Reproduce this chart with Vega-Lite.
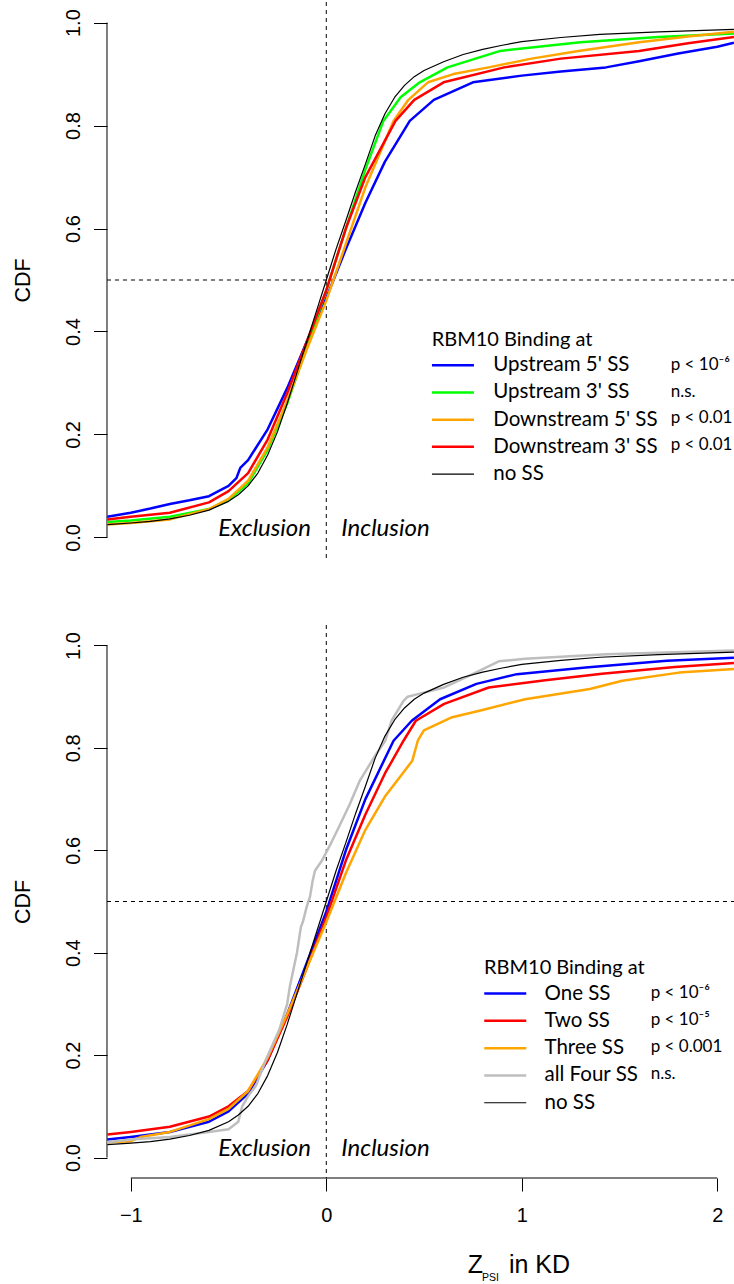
{
 "$schema": "https://vega.github.io/schema/vega-lite/v6.json",
 "autosize": {"type": "pad"},
 "padding": {"left": 0, "top": 1, "right": 0, "bottom": 0},
 "background": "white",
 "bounds": "flush",
 "spacing": 67,
 "config": {
  "view": {"stroke": null},
  "font": "Liberation Sans",
  "axis": {"labelFont": "Liberation Sans", "labelFontSize": 20, "labelColor": "black", "tickColor": "black", "tickWidth": 1, "tickSize": 13.5, "grid": false, "domain": false, "titleFont": "Liberation Sans", "titleFontSize": 21.5, "titleFontWeight": "normal", "titleColor": "black"},
  "text": {"color": "black"}
 },
 "datasets": {
  "top": [
   {"series": "Upstream 5' SS", "z": -1.12, "cdf": 0.04}, {"series": "Upstream 5' SS", "z": -1.0, "cdf": 0.048}, {"series": "Upstream 5' SS", "z": -0.9, "cdf": 0.056}, {"series": "Upstream 5' SS", "z": -0.8, "cdf": 0.065}, {"series": "Upstream 5' SS", "z": -0.7, "cdf": 0.072}, {"series": "Upstream 5' SS", "z": -0.6, "cdf": 0.08}, {"series": "Upstream 5' SS", "z": -0.5, "cdf": 0.1}, {"series": "Upstream 5' SS", "z": -0.46, "cdf": 0.115}, {"series": "Upstream 5' SS", "z": -0.44, "cdf": 0.135}, {"series": "Upstream 5' SS", "z": -0.4, "cdf": 0.15}, {"series": "Upstream 5' SS", "z": -0.3, "cdf": 0.21}, {"series": "Upstream 5' SS", "z": -0.2, "cdf": 0.29}, {"series": "Upstream 5' SS", "z": -0.1, "cdf": 0.38}, {"series": "Upstream 5' SS", "z": 0.0, "cdf": 0.465}, {"series": "Upstream 5' SS", "z": 0.1, "cdf": 0.56}, {"series": "Upstream 5' SS", "z": 0.2, "cdf": 0.65}, {"series": "Upstream 5' SS", "z": 0.3, "cdf": 0.73}, {"series": "Upstream 5' SS", "z": 0.427, "cdf": 0.809}, {"series": "Upstream 5' SS", "z": 0.55, "cdf": 0.85}, {"series": "Upstream 5' SS", "z": 0.75, "cdf": 0.884}, {"series": "Upstream 5' SS", "z": 1.0, "cdf": 0.897}, {"series": "Upstream 5' SS", "z": 1.2, "cdf": 0.905}, {"series": "Upstream 5' SS", "z": 1.43, "cdf": 0.913}, {"series": "Upstream 5' SS", "z": 1.6, "cdf": 0.925}, {"series": "Upstream 5' SS", "z": 1.8, "cdf": 0.94}, {"series": "Upstream 5' SS", "z": 2.0, "cdf": 0.953}, {"series": "Upstream 5' SS", "z": 2.085, "cdf": 0.961},
   {"series": "Upstream 3' SS", "z": -1.12, "cdf": 0.03}, {"series": "Upstream 3' SS", "z": -1.0, "cdf": 0.033}, {"series": "Upstream 3' SS", "z": -0.8, "cdf": 0.04}, {"series": "Upstream 3' SS", "z": -0.6, "cdf": 0.055}, {"series": "Upstream 3' SS", "z": -0.5, "cdf": 0.072}, {"series": "Upstream 3' SS", "z": -0.4, "cdf": 0.105}, {"series": "Upstream 3' SS", "z": -0.3, "cdf": 0.17}, {"series": "Upstream 3' SS", "z": -0.2, "cdf": 0.26}, {"series": "Upstream 3' SS", "z": -0.1, "cdf": 0.37}, {"series": "Upstream 3' SS", "z": 0.0, "cdf": 0.48}, {"series": "Upstream 3' SS", "z": 0.1, "cdf": 0.6}, {"series": "Upstream 3' SS", "z": 0.2, "cdf": 0.715}, {"series": "Upstream 3' SS", "z": 0.292, "cdf": 0.809}, {"series": "Upstream 3' SS", "z": 0.38, "cdf": 0.855}, {"series": "Upstream 3' SS", "z": 0.478, "cdf": 0.884}, {"series": "Upstream 3' SS", "z": 0.62, "cdf": 0.913}, {"series": "Upstream 3' SS", "z": 0.89, "cdf": 0.945}, {"series": "Upstream 3' SS", "z": 1.3, "cdf": 0.962}, {"series": "Upstream 3' SS", "z": 1.7, "cdf": 0.972}, {"series": "Upstream 3' SS", "z": 2.085, "cdf": 0.979},
   {"series": "Downstream 5' SS", "z": -1.12, "cdf": 0.025}, {"series": "Downstream 5' SS", "z": -1.0, "cdf": 0.028}, {"series": "Downstream 5' SS", "z": -0.8, "cdf": 0.035}, {"series": "Downstream 5' SS", "z": -0.6, "cdf": 0.055}, {"series": "Downstream 5' SS", "z": -0.5, "cdf": 0.075}, {"series": "Downstream 5' SS", "z": -0.4, "cdf": 0.11}, {"series": "Downstream 5' SS", "z": -0.3, "cdf": 0.175}, {"series": "Downstream 5' SS", "z": -0.2, "cdf": 0.265}, {"series": "Downstream 5' SS", "z": -0.1, "cdf": 0.365}, {"series": "Downstream 5' SS", "z": 0.0, "cdf": 0.46}, {"series": "Downstream 5' SS", "z": 0.1, "cdf": 0.57}, {"series": "Downstream 5' SS", "z": 0.2, "cdf": 0.68}, {"series": "Downstream 5' SS", "z": 0.344, "cdf": 0.809}, {"series": "Downstream 5' SS", "z": 0.42, "cdf": 0.85}, {"series": "Downstream 5' SS", "z": 0.52, "cdf": 0.884}, {"series": "Downstream 5' SS", "z": 0.65, "cdf": 0.9}, {"series": "Downstream 5' SS", "z": 0.83, "cdf": 0.913}, {"series": "Downstream 5' SS", "z": 1.05, "cdf": 0.93}, {"series": "Downstream 5' SS", "z": 1.29, "cdf": 0.945}, {"series": "Downstream 5' SS", "z": 1.6, "cdf": 0.962}, {"series": "Downstream 5' SS", "z": 1.85, "cdf": 0.973}, {"series": "Downstream 5' SS", "z": 2.085, "cdf": 0.982},
   {"series": "Downstream 3' SS", "z": -1.12, "cdf": 0.035}, {"series": "Downstream 3' SS", "z": -1.0, "cdf": 0.04}, {"series": "Downstream 3' SS", "z": -0.8, "cdf": 0.048}, {"series": "Downstream 3' SS", "z": -0.6, "cdf": 0.068}, {"series": "Downstream 3' SS", "z": -0.5, "cdf": 0.09}, {"series": "Downstream 3' SS", "z": -0.4, "cdf": 0.125}, {"series": "Downstream 3' SS", "z": -0.3, "cdf": 0.19}, {"series": "Downstream 3' SS", "z": -0.2, "cdf": 0.28}, {"series": "Downstream 3' SS", "z": -0.1, "cdf": 0.38}, {"series": "Downstream 3' SS", "z": 0.0, "cdf": 0.48}, {"series": "Downstream 3' SS", "z": 0.1, "cdf": 0.6}, {"series": "Downstream 3' SS", "z": 0.2, "cdf": 0.7}, {"series": "Downstream 3' SS", "z": 0.354, "cdf": 0.809}, {"series": "Downstream 3' SS", "z": 0.45, "cdf": 0.85}, {"series": "Downstream 3' SS", "z": 0.6, "cdf": 0.884}, {"series": "Downstream 3' SS", "z": 0.91, "cdf": 0.913}, {"series": "Downstream 3' SS", "z": 1.2, "cdf": 0.93}, {"series": "Downstream 3' SS", "z": 1.6, "cdf": 0.945}, {"series": "Downstream 3' SS", "z": 1.85, "cdf": 0.96}, {"series": "Downstream 3' SS", "z": 2.085, "cdf": 0.972},
   {"series": "no SS", "z": -1.12, "cdf": 0.025}, {"series": "no SS", "z": -1.0, "cdf": 0.028}, {"series": "no SS", "z": -0.9, "cdf": 0.031}, {"series": "no SS", "z": -0.8, "cdf": 0.036}, {"series": "no SS", "z": -0.7, "cdf": 0.043}, {"series": "no SS", "z": -0.6, "cdf": 0.053}, {"series": "no SS", "z": -0.5, "cdf": 0.07}, {"series": "no SS", "z": -0.45, "cdf": 0.083}, {"series": "no SS", "z": -0.4, "cdf": 0.1}, {"series": "no SS", "z": -0.35, "cdf": 0.125}, {"series": "no SS", "z": -0.3, "cdf": 0.16}, {"series": "no SS", "z": -0.25, "cdf": 0.205}, {"series": "no SS", "z": -0.2, "cdf": 0.26}, {"series": "no SS", "z": -0.15, "cdf": 0.32}, {"series": "no SS", "z": -0.1, "cdf": 0.38}, {"series": "no SS", "z": -0.05, "cdf": 0.44}, {"series": "no SS", "z": 0.0, "cdf": 0.5}, {"series": "no SS", "z": 0.05, "cdf": 0.56}, {"series": "no SS", "z": 0.1, "cdf": 0.615}, {"series": "no SS", "z": 0.15, "cdf": 0.672}, {"series": "no SS", "z": 0.2, "cdf": 0.725}, {"series": "no SS", "z": 0.25, "cdf": 0.78}, {"series": "no SS", "z": 0.3, "cdf": 0.823}, {"series": "no SS", "z": 0.35, "cdf": 0.855}, {"series": "no SS", "z": 0.4, "cdf": 0.878}, {"series": "no SS", "z": 0.45, "cdf": 0.895}, {"series": "no SS", "z": 0.5, "cdf": 0.907}, {"series": "no SS", "z": 0.6, "cdf": 0.924}, {"series": "no SS", "z": 0.7, "cdf": 0.938}, {"series": "no SS", "z": 0.8, "cdf": 0.948}, {"series": "no SS", "z": 0.9, "cdf": 0.956}, {"series": "no SS", "z": 1.0, "cdf": 0.963}, {"series": "no SS", "z": 1.2, "cdf": 0.971}, {"series": "no SS", "z": 1.4, "cdf": 0.977}, {"series": "no SS", "z": 1.7, "cdf": 0.982}, {"series": "no SS", "z": 2.085, "cdf": 0.987}
  ],
  "bottom": [
   {"series": "One SS", "z": -1.12, "cdf": 0.035}, {"series": "One SS", "z": -1.0, "cdf": 0.04}, {"series": "One SS", "z": -0.8, "cdf": 0.05}, {"series": "One SS", "z": -0.6, "cdf": 0.07}, {"series": "One SS", "z": -0.5, "cdf": 0.09}, {"series": "One SS", "z": -0.4, "cdf": 0.125}, {"series": "One SS", "z": -0.3, "cdf": 0.19}, {"series": "One SS", "z": -0.2, "cdf": 0.28}, {"series": "One SS", "z": -0.1, "cdf": 0.38}, {"series": "One SS", "z": 0.0, "cdf": 0.48}, {"series": "One SS", "z": 0.1, "cdf": 0.6}, {"series": "One SS", "z": 0.2, "cdf": 0.7}, {"series": "One SS", "z": 0.344, "cdf": 0.814}, {"series": "One SS", "z": 0.437, "cdf": 0.853}, {"series": "One SS", "z": 0.582, "cdf": 0.895}, {"series": "One SS", "z": 0.768, "cdf": 0.925}, {"series": "One SS", "z": 0.975, "cdf": 0.944}, {"series": "One SS", "z": 1.327, "cdf": 0.957}, {"series": "One SS", "z": 1.742, "cdf": 0.97}, {"series": "One SS", "z": 2.085, "cdf": 0.976},
   {"series": "Two SS", "z": -1.12, "cdf": 0.045}, {"series": "Two SS", "z": -1.0, "cdf": 0.05}, {"series": "Two SS", "z": -0.8, "cdf": 0.06}, {"series": "Two SS", "z": -0.6, "cdf": 0.08}, {"series": "Two SS", "z": -0.5, "cdf": 0.1}, {"series": "Two SS", "z": -0.4, "cdf": 0.13}, {"series": "Two SS", "z": -0.3, "cdf": 0.19}, {"series": "Two SS", "z": -0.2, "cdf": 0.275}, {"series": "Two SS", "z": -0.1, "cdf": 0.37}, {"series": "Two SS", "z": 0.0, "cdf": 0.47}, {"series": "Two SS", "z": 0.1, "cdf": 0.58}, {"series": "Two SS", "z": 0.2, "cdf": 0.67}, {"series": "Two SS", "z": 0.3, "cdf": 0.75}, {"series": "Two SS", "z": 0.395, "cdf": 0.814}, {"series": "Two SS", "z": 0.458, "cdf": 0.853}, {"series": "Two SS", "z": 0.603, "cdf": 0.886}, {"series": "Two SS", "z": 0.831, "cdf": 0.918}, {"series": "Two SS", "z": 1.12, "cdf": 0.932}, {"series": "Two SS", "z": 1.41, "cdf": 0.945}, {"series": "Two SS", "z": 1.783, "cdf": 0.958}, {"series": "Two SS", "z": 2.085, "cdf": 0.966},
   {"series": "Three SS", "z": -1.12, "cdf": 0.03}, {"series": "Three SS", "z": -1.0, "cdf": 0.032}, {"series": "Three SS", "z": -0.95, "cdf": 0.04}, {"series": "Three SS", "z": -0.8, "cdf": 0.05}, {"series": "Three SS", "z": -0.6, "cdf": 0.075}, {"series": "Three SS", "z": -0.5, "cdf": 0.095}, {"series": "Three SS", "z": -0.4, "cdf": 0.13}, {"series": "Three SS", "z": -0.3, "cdf": 0.195}, {"series": "Three SS", "z": -0.2, "cdf": 0.28}, {"series": "Three SS", "z": -0.1, "cdf": 0.37}, {"series": "Three SS", "z": 0.0, "cdf": 0.46}, {"series": "Three SS", "z": 0.1, "cdf": 0.555}, {"series": "Three SS", "z": 0.2, "cdf": 0.64}, {"series": "Three SS", "z": 0.3, "cdf": 0.705}, {"series": "Three SS", "z": 0.4, "cdf": 0.755}, {"series": "Three SS", "z": 0.44, "cdf": 0.775}, {"series": "Three SS", "z": 0.468, "cdf": 0.814}, {"series": "Three SS", "z": 0.499, "cdf": 0.834}, {"series": "Three SS", "z": 0.644, "cdf": 0.86}, {"series": "Three SS", "z": 0.789, "cdf": 0.873}, {"series": "Three SS", "z": 1.017, "cdf": 0.895}, {"series": "Three SS", "z": 1.348, "cdf": 0.915}, {"series": "Three SS", "z": 1.514, "cdf": 0.931}, {"series": "Three SS", "z": 1.804, "cdf": 0.947}, {"series": "Three SS", "z": 2.085, "cdf": 0.954},
   {"series": "all Four SS", "z": -1.12, "cdf": 0.03}, {"series": "all Four SS", "z": -1.0, "cdf": 0.035}, {"series": "all Four SS", "z": -0.8, "cdf": 0.04}, {"series": "all Four SS", "z": -0.6, "cdf": 0.05}, {"series": "all Four SS", "z": -0.5, "cdf": 0.055}, {"series": "all Four SS", "z": -0.45, "cdf": 0.07}, {"series": "all Four SS", "z": -0.43, "cdf": 0.1}, {"series": "all Four SS", "z": -0.4, "cdf": 0.12}, {"series": "all Four SS", "z": -0.36, "cdf": 0.14}, {"series": "all Four SS", "z": -0.31, "cdf": 0.19}, {"series": "all Four SS", "z": -0.24, "cdf": 0.25}, {"series": "all Four SS", "z": -0.2, "cdf": 0.3}, {"series": "all Four SS", "z": -0.186, "cdf": 0.335}, {"series": "all Four SS", "z": -0.15, "cdf": 0.4}, {"series": "all Four SS", "z": -0.13, "cdf": 0.45}, {"series": "all Four SS", "z": -0.12, "cdf": 0.46}, {"series": "all Four SS", "z": -0.1, "cdf": 0.49}, {"series": "all Four SS", "z": -0.083, "cdf": 0.51}, {"series": "all Four SS", "z": -0.07, "cdf": 0.54}, {"series": "all Four SS", "z": -0.058, "cdf": 0.56}, {"series": "all Four SS", "z": -0.022, "cdf": 0.58}, {"series": "all Four SS", "z": 0.019, "cdf": 0.61}, {"series": "all Four SS", "z": 0.07, "cdf": 0.65}, {"series": "all Four SS", "z": 0.12, "cdf": 0.69}, {"series": "all Four SS", "z": 0.17, "cdf": 0.735}, {"series": "all Four SS", "z": 0.25, "cdf": 0.785}, {"series": "all Four SS", "z": 0.302, "cdf": 0.814}, {"series": "all Four SS", "z": 0.3335, "cdf": 0.853}, {"series": "all Four SS", "z": 0.395, "cdf": 0.892}, {"series": "all Four SS", "z": 0.416, "cdf": 0.9}, {"series": "all Four SS", "z": 0.499, "cdf": 0.908}, {"series": "all Four SS", "z": 0.603, "cdf": 0.918}, {"series": "all Four SS", "z": 0.748, "cdf": 0.944}, {"series": "all Four SS", "z": 0.882, "cdf": 0.969}, {"series": "all Four SS", "z": 1.017, "cdf": 0.974}, {"series": "all Four SS", "z": 1.431, "cdf": 0.983}, {"series": "all Four SS", "z": 2.085, "cdf": 0.99},
   {"series": "no SS", "z": -1.12, "cdf": 0.025}, {"series": "no SS", "z": -1.0, "cdf": 0.028}, {"series": "no SS", "z": -0.9, "cdf": 0.031}, {"series": "no SS", "z": -0.8, "cdf": 0.036}, {"series": "no SS", "z": -0.7, "cdf": 0.043}, {"series": "no SS", "z": -0.6, "cdf": 0.053}, {"series": "no SS", "z": -0.5, "cdf": 0.07}, {"series": "no SS", "z": -0.45, "cdf": 0.083}, {"series": "no SS", "z": -0.4, "cdf": 0.1}, {"series": "no SS", "z": -0.35, "cdf": 0.125}, {"series": "no SS", "z": -0.3, "cdf": 0.16}, {"series": "no SS", "z": -0.25, "cdf": 0.205}, {"series": "no SS", "z": -0.2, "cdf": 0.26}, {"series": "no SS", "z": -0.15, "cdf": 0.32}, {"series": "no SS", "z": -0.1, "cdf": 0.38}, {"series": "no SS", "z": -0.05, "cdf": 0.44}, {"series": "no SS", "z": 0.0, "cdf": 0.5}, {"series": "no SS", "z": 0.05, "cdf": 0.56}, {"series": "no SS", "z": 0.1, "cdf": 0.615}, {"series": "no SS", "z": 0.15, "cdf": 0.672}, {"series": "no SS", "z": 0.2, "cdf": 0.725}, {"series": "no SS", "z": 0.25, "cdf": 0.78}, {"series": "no SS", "z": 0.3, "cdf": 0.823}, {"series": "no SS", "z": 0.35, "cdf": 0.855}, {"series": "no SS", "z": 0.4, "cdf": 0.878}, {"series": "no SS", "z": 0.45, "cdf": 0.895}, {"series": "no SS", "z": 0.5, "cdf": 0.907}, {"series": "no SS", "z": 0.6, "cdf": 0.924}, {"series": "no SS", "z": 0.7, "cdf": 0.938}, {"series": "no SS", "z": 0.8, "cdf": 0.948}, {"series": "no SS", "z": 0.9, "cdf": 0.956}, {"series": "no SS", "z": 1.0, "cdf": 0.963}, {"series": "no SS", "z": 1.2, "cdf": 0.971}, {"series": "no SS", "z": 1.4, "cdf": 0.977}, {"series": "no SS", "z": 1.7, "cdf": 0.982}, {"series": "no SS", "z": 2.085, "cdf": 0.987}
  ]
 },
 "vconcat": [
  {
   "width": 734,
   "height": 556,
   "layer": [
    {"data": {"values": [{}]}, "mark": {"type": "rule", "strokeDash": [4, 4], "strokeWidth": 1, "color": "black"}, "encoding": {"x": {"datum": 0, "type": "quantitative", "axis": null}}},
    {"data": {"values": [{}]}, "mark": {"type": "rule", "strokeDash": [4, 4], "strokeWidth": 1, "color": "black"}, "encoding": {"x": {"datum": -1.1217, "type": "quantitative", "axis": null}, "x2": {"datum": 2.0854}, "y": {"datum": 0.5, "type": "quantitative"}}},
    {"data": {"values": [{}]}, "mark": {"type": "rule", "strokeWidth": 1, "color": "black"}, "encoding": {"x": {"datum": -1.1217, "type": "quantitative", "axis": null}, "y": {"datum": 0, "type": "quantitative"}, "y2": {"datum": 1}}},
    {
     "data": {"name": "top"},
     "mark": {"type": "line", "strokeJoin": "round"},
     "encoding": {
      "x": {"field": "z", "type": "quantitative", "scale": {"domain": [-1.669, 2.0854], "nice": false, "zero": false}, "axis": null},
      "y": {"field": "cdf", "type": "quantitative", "scale": {"domain": [-0.04, 1.04], "nice": false, "zero": false},
            "axis": {"values": [0, 0.2, 0.4, 0.6, 0.8, 1], "format": ".1f", "labelAngle": 270, "labelAlign": "center", "labelBaseline": "alphabetic", "labelPadding": 14, "offset": -107, "title": "CDF", "titleX": -78, "titleY": 278, "titleAngle": 270, "titleAlign": "center", "titleBaseline": "alphabetic"}},
      "color": {"field": "series", "type": "nominal",
                "scale": {"domain": ["Upstream 5' SS", "Upstream 3' SS", "Downstream 5' SS", "Downstream 3' SS", "no SS"], "range": ["#0000FF", "#00FF00", "#FFA500", "#FF0000", "#000000"]},
                "legend": {"title": "RBM10 Binding at", "orient": "none", "legendX": 431.7, "legendY": 328, "symbolType": "M-3,0H3", "symbolSize": 196, "symbolStrokeWidth": 2.5, "symbolOffset": 11, "labelOffset": 30, "rowPadding": 6.2, "titlePadding": 5, "padding": 0, "labelFont": "Lato", "labelFontSize": 20.5, "labelColor": "black", "labelLimit": 0, "titleFont": "Lato", "titleFontSize": 20, "titleFontWeight": "normal", "titleColor": "black", "titleLimit": 0,
                           "encode": {"symbols": {"update": {"strokeWidth": {"signal": "(datum.value === 'no SS' ? 1.2 : 2.5)"}}}}}},
      "strokeWidth": {"condition": {"test": "datum.series === 'no SS'", "value": 1.2}, "value": 2.5}
     }
    },
    {"data": {"values": [{}]}, "mark": {"type": "text", "font": "Lato", "fontStyle": "italic", "fontSize": 24, "align": "right", "baseline": "alphabetic"}, "encoding": {"x": {"datum": -0.078, "type": "quantitative", "axis": null}, "y": {"datum": 0.002, "type": "quantitative"}, "text": {"value": "Exclusion"}}},
    {"data": {"values": [{}]}, "mark": {"type": "text", "font": "Lato", "fontStyle": "italic", "fontSize": 24, "align": "left", "baseline": "alphabetic"}, "encoding": {"x": {"datum": 0.077, "type": "quantitative", "axis": null}, "y": {"datum": 0.002, "type": "quantitative"}, "text": {"value": "Inclusion"}}},
    {"data": {"values": [{}]}, "mark": {"type": "text", "font": "Lato", "fontSize": 17, "align": "left", "baseline": "middle", "lineHeight": 26.7}, "encoding": {"x": {"datum": 1.7616, "type": "quantitative", "axis": null}, "y": {"datum": 0.335, "type": "quantitative"}, "text": {"value": ["p < 10\u207b\u2076", "n.s.", "p < 0.01", "p < 0.01"]}}}
   ]
  },
  {
   "width": 734,
   "height": 553,
   "layer": [
    {"data": {"values": [{}]}, "mark": {"type": "rule", "strokeDash": [4, 4], "strokeWidth": 1, "color": "black"}, "encoding": {"x": {"datum": 0, "type": "quantitative"}}},
    {"data": {"values": [{}]}, "mark": {"type": "rule", "strokeDash": [4, 4], "strokeWidth": 1, "color": "black"}, "encoding": {"x": {"datum": -1.1217, "type": "quantitative"}, "x2": {"datum": 2.0854}, "y": {"datum": 0.5, "type": "quantitative"}}},
    {"data": {"values": [{}]}, "mark": {"type": "rule", "strokeWidth": 1, "color": "black"}, "encoding": {"x": {"datum": -1.1217, "type": "quantitative"}, "y": {"datum": 0, "type": "quantitative"}, "y2": {"datum": 1}}},
    {"data": {"values": [{}]}, "mark": {"type": "rule", "strokeWidth": 1, "color": "black"}, "encoding": {"x": {"datum": -1, "type": "quantitative"}, "x2": {"datum": 2}, "y": {"datum": -0.04, "type": "quantitative"}}},
    {
     "data": {"name": "bottom"},
     "mark": {"type": "line", "strokeJoin": "round"},
     "encoding": {
      "x": {"field": "z", "type": "quantitative", "scale": {"domain": [-1.669, 2.0854], "nice": false, "zero": false},
            "axis": {"values": [-1, 0, 1, 2], "format": "d", "labelAlign": "center", "labelBaseline": "top", "labelPadding": 14, "tickSize": 13, "title": null}},
      "y": {"field": "cdf", "type": "quantitative", "scale": {"domain": [-0.04, 1.04], "nice": false, "zero": false},
            "axis": {"values": [0, 0.2, 0.4, 0.6, 0.8, 1], "format": ".1f", "labelAngle": 270, "labelAlign": "center", "labelBaseline": "alphabetic", "labelPadding": 14, "offset": -107, "title": "CDF", "titleX": -78, "titleY": 276.5, "titleAngle": 270, "titleAlign": "center", "titleBaseline": "alphabetic"}},
      "color": {"field": "series", "type": "nominal",
                "scale": {"domain": ["One SS", "Two SS", "Three SS", "all Four SS", "no SS"], "range": ["#0000FF", "#FF0000", "#FFA500", "#BEBEBE", "#000000"]},
                "legend": {"title": "RBM10 Binding at", "orient": "none", "legendX": 484, "legendY": 333.3, "symbolType": "M-3,0H3", "symbolSize": 196, "symbolStrokeWidth": 2.5, "symbolOffset": 11, "labelOffset": 29, "rowPadding": 6.3, "titlePadding": 5, "padding": 0, "labelFont": "Lato", "labelFontSize": 20.5, "labelColor": "black", "labelLimit": 0, "titleFont": "Lato", "titleFontSize": 20, "titleFontWeight": "normal", "titleColor": "black", "titleLimit": 0,
                           "encode": {"symbols": {"update": {"strokeWidth": {"signal": "(datum.value === 'no SS' ? 1.2 : 2.5)"}}}}}},
      "strokeWidth": {"condition": {"test": "datum.series === 'no SS'", "value": 1.2}, "value": 2.5}
     }
    },
    {"data": {"values": [{}]}, "mark": {"type": "text", "font": "Lato", "fontStyle": "italic", "fontSize": 24, "align": "right", "baseline": "alphabetic"}, "encoding": {"x": {"datum": -0.078, "type": "quantitative"}, "y": {"datum": 0.002, "type": "quantitative"}, "text": {"value": "Exclusion"}}},
    {"data": {"values": [{}]}, "mark": {"type": "text", "font": "Lato", "fontStyle": "italic", "fontSize": 24, "align": "left", "baseline": "alphabetic"}, "encoding": {"x": {"datum": 0.077, "type": "quantitative"}, "y": {"datum": 0.002, "type": "quantitative"}, "text": {"value": "Inclusion"}}},
    {"data": {"values": [{}]}, "mark": {"type": "text", "font": "Lato", "fontSize": 17, "align": "left", "baseline": "middle", "lineHeight": 26.8}, "encoding": {"x": {"datum": 1.6593, "type": "quantitative"}, "y": {"datum": 0.3207, "type": "quantitative"}, "text": {"value": ["p < 10\u207b\u2076", "p < 10\u207b\u2075", "p < 0.001", "n.s."]}}},
    {"data": {"values": [{}]}, "mark": {"type": "text", "font": "Liberation Sans", "fontSize": 25, "align": "left", "baseline": "alphabetic"}, "encoding": {"x": {"datum": 0.7238, "type": "quantitative"}, "y": {"datum": -0.225, "type": "quantitative", "scale": {"domain": [-0.04, 1.04], "nice": false, "zero": false}}, "text": {"value": "Z"}}},
    {"data": {"values": [{}]}, "mark": {"type": "text", "font": "Liberation Sans", "fontSize": 10.5, "align": "left", "baseline": "alphabetic"}, "encoding": {"x": {"datum": 0.796, "type": "quantitative"}, "y": {"datum": -0.2412, "type": "quantitative", "scale": {"domain": [-0.04, 1.04], "nice": false, "zero": false}}, "text": {"value": "PSI"}}},
    {"data": {"values": [{}]}, "mark": {"type": "text", "font": "Liberation Sans", "fontSize": 25, "align": "left", "baseline": "alphabetic"}, "encoding": {"x": {"datum": 0.934, "type": "quantitative"}, "y": {"datum": -0.225, "type": "quantitative", "scale": {"domain": [-0.04, 1.04], "nice": false, "zero": false}}, "text": {"value": "in KD"}}}
   ]
  }
 ],
 "resolve": {"scale": {"color": "independent"}, "legend": {"color": "independent"}}
}
